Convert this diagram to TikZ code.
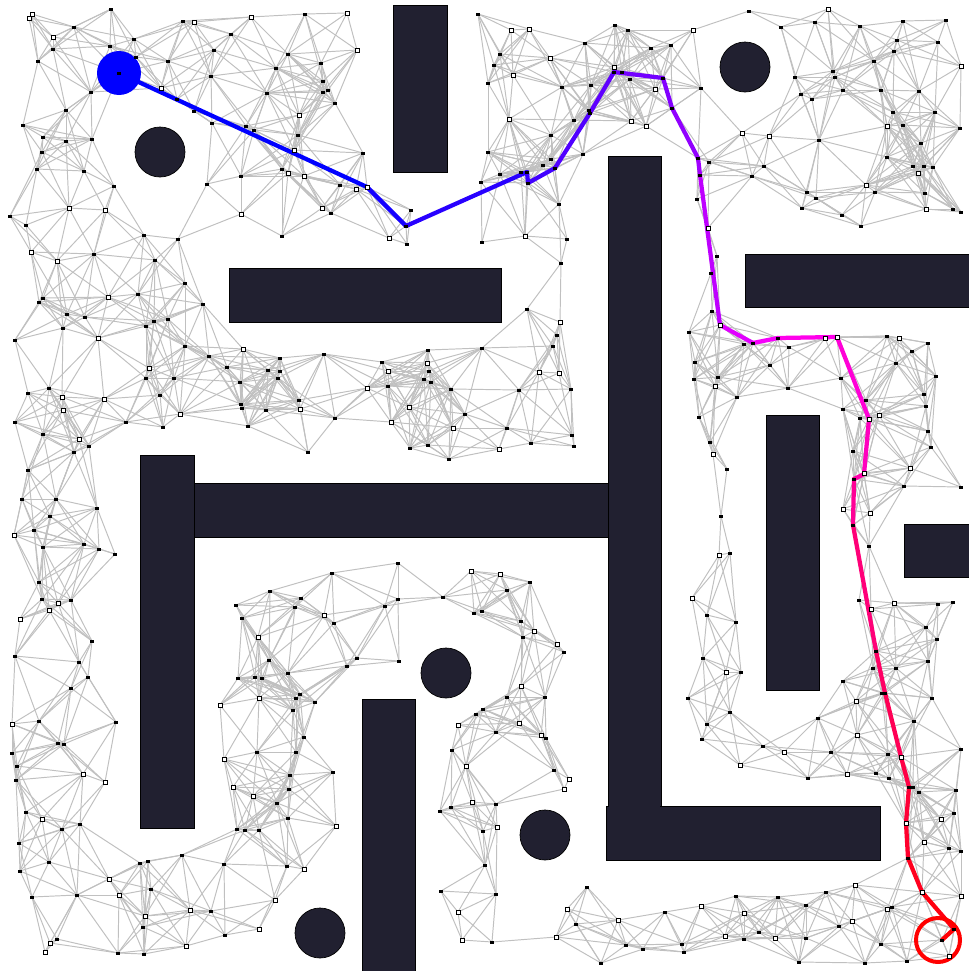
\documentclass[tikz,border=0pt]{standalone}
\usepackage{tikz}
\definecolor{obst}{RGB}{33,32,48}
\definecolor{edgegray}{RGB}{192,192,192}
\makeatletter
\newcount\npts
\newcount\qX \newcount\qY \newcount\qC
\newcount\eI \newcount\eJ \newcount\eK \newcount\ddx \newcount\ddy
\newcount\Rc \newcount\Rsq \newcount\targetN
\newcount\gx \newcount\gy
\newif\iffreept
\newif\ifsegok
\def\chkrect#1#2#3#4{%
  \ifnum\qX<\numexpr#1-\qC\relax\else
  \ifnum\qX>\numexpr#3+\qC\relax\else
  \ifnum\qY<\numexpr#2-\qC\relax\else
  \ifnum\qY>\numexpr#4+\qC\relax\else
    \freeptfalse
  \fi\fi\fi\fi}
\def\chkcirc#1#2{%
  \ifnum\numexpr(\qX-#1)*(\qX-#1)+(\qY-#2)*(\qY-#2)\relax<\numexpr(25+\qC)*(25+\qC)\relax
    \freeptfalse
  \fi}
\def\chkall{\freepttrue
  \chkrect{393}{5}{447}{172}%
  \chkrect{229}{268}{501}{322}%
  \chkrect{608}{156}{661}{812}%
  \chkrect{745}{254}{969}{307}%
  \chkrect{766}{415}{819}{690}%
  \chkrect{904}{524}{969}{577}%
  \chkrect{140}{455}{194}{828}%
  \chkrect{194}{483}{608}{537}%
  \chkrect{362}{699}{415}{971}%
  \chkrect{606}{806}{880}{860}%
  \chkcirc{160}{152}\chkcirc{745}{67}\chkcirc{446}{673}\chkcirc{545}{835}\chkcirc{320}{933}}
\def\addpt#1#2#3{%
  \global\advance\npts\@ne
  \expandafter\xdef\csname px\the\npts\endcsname{#1}%
  \expandafter\xdef\csname py\the\npts\endcsname{#2}%
  \expandafter\xdef\csname ps\the\npts\endcsname{#3}%
  \edef\tmpcmd{\noexpand\coordinate (n\the\npts) at (#1,#2);}\tmpcmd}
\def\gridloop{%
  \ifnum\gy<24
    \pgfmathrandominteger{\rx}{0}{39}%
    \pgfmathrandominteger{\ry}{0}{39}%
    \pgfmathrandominteger{\rs}{0}{3}%
    \qX=\numexpr 8+\gx*40+\rx\relax \qY=\numexpr 6+\gy*40+\ry\relax
    \ifnum\qX>961 \qX=961 \fi
    \ifnum\qY>965 \qY=965 \fi
    \qC=23\relax
    \chkall
    \iffreept \addpt{\the\qX}{\the\qY}{\rs}\fi
    \advance\gx\@ne
    \ifnum\gx>23 \gx=0 \advance\gy\@ne \fi
    \expandafter\gridloop
  \fi}
\def\genloop{%
  \ifnum\npts<\targetN
    \pgfmathrandominteger{\rx}{8}{961}%
    \pgfmathrandominteger{\ry}{6}{965}%
    \pgfmathrandominteger{\rs}{0}{3}%
    \qX=\rx\relax \qY=\ry\relax \qC=23\relax
    \chkall
    \iffreept \addpt{\the\qX}{\the\qY}{\rs}\fi
    \expandafter\genloop
  \fi}
\def\segcheck{%
  \segoktrue
  \qC=3\relax
  \edef\pAx{\csname px\the\eI\endcsname}\edef\pAy{\csname py\the\eI\endcsname}%
  \edef\pBx{\csname px\the\eJ\endcsname}\edef\pBy{\csname py\the\eJ\endcsname}%
  \qX=\numexpr(3*\pAx+\pBx)/4\relax \qY=\numexpr(3*\pAy+\pBy)/4\relax
  \chkall \iffreept\else\segokfalse\fi
  \qX=\numexpr(\pAx+\pBx)/2\relax \qY=\numexpr(\pAy+\pBy)/2\relax
  \chkall \iffreept\else\segokfalse\fi
  \qX=\numexpr(\pAx+3*\pBx)/4\relax \qY=\numexpr(\pAy+3*\pBy)/4\relax
  \chkall \iffreept\else\segokfalse\fi}
\def\edgeinner{%
  \ifnum\eJ>\npts\else
    \ddx=\numexpr\csname px\the\eI\endcsname-\csname px\the\eJ\endcsname\relax
    \ifnum\ddx<\z@ \ddx=-\ddx\fi
    \ifnum\ddx<\Rc
      \ddy=\numexpr\csname py\the\eI\endcsname-\csname py\the\eJ\endcsname\relax
      \ifnum\ddy<\z@ \ddy=-\ddy\fi
      \ifnum\ddy<\Rc
        \ifnum\numexpr\ddx*\ddx+\ddy*\ddy\relax<\Rsq
          \segcheck
          \ifsegok
            \edef\tmpcmd{\noexpand\draw[edgeline] (n\the\eI) -- (n\the\eJ);}\tmpcmd
          \fi
        \fi
      \fi
    \fi
    \advance\eJ\@ne
    \expandafter\edgeinner
  \fi}
\def\edgeouter{%
  \ifnum\eI<\npts
    \eJ=\eI \advance\eJ\@ne
    \edgeinner
    \advance\eI\@ne
    \expandafter\edgeouter
  \fi}
\def\nodeloop{%
  \ifnum\eK>\npts\else
    \ifnum\csname ps\the\eK\endcsname=0
      \edef\tmpcmd{\noexpand\node[hollowsq] (m\the\eK) at (n\the\eK) {};}%
    \else
      \edef\tmpcmd{\noexpand\node[fillsq] (m\the\eK) at (n\the\eK) {};}%
    \fi
    \tmpcmd
    \advance\eK\@ne
    \expandafter\nodeloop
  \fi}
\makeatother
\tikzset{
  obstacle/.style={fill=obst, draw=black, line width=0.4pt},
  edgeline/.style={draw=edgegray, line width=0.55pt},
  pathline/.style={line width=0.085cm, line cap=round, line join=round},
  fillsq/.style={fill=black, draw=none, inner sep=0pt, minimum width=0.08cm, minimum height=0.06cm},
  hollowsq/.style={fill=white, draw=black, line width=0.4pt, inner sep=0pt, minimum size=0.075cm}
}
\begin{document}
\begin{tikzpicture}[x=0.02cm, y=-0.02cm]
\fill[white] (0,0) rectangle (969,971);
\useasboundingbox (0,0) rectangle (969,971);
% obstacles
\draw[obstacle] (393,5) rectangle (447,172);
\draw[obstacle] (229,268) rectangle (501,322);
\draw[obstacle] (608,156) rectangle (661,812);
\draw[obstacle] (745,254) rectangle (975,307);
\draw[obstacle] (766,415) rectangle (819,690);
\draw[obstacle] (904,524) rectangle (975,577);
\draw[obstacle] (140,455) rectangle (194,828);
\draw[obstacle] (194,483) rectangle (608,537);
\draw[obstacle] (362,699) rectangle (415,975);
\draw[obstacle] (606,806) rectangle (880,860);
\fill[obst] (609,800) rectangle (660,812);
\draw[obstacle] (160,152) circle[radius=0.5cm];
\draw[obstacle] (745,67) circle[radius=0.5cm];
\draw[obstacle] (446,673) circle[radius=0.5cm];
\draw[obstacle] (545,835) circle[radius=0.5cm];
\draw[obstacle] (320,933) circle[radius=0.5cm];
% path vertices as roadmap nodes
\foreach \x/\y/\s in {119/73/1,367/187/0,406/226/1,527/172/1,528/183/1,555/168/1,590/113/1,614/72/1,663/78/1,672/108/1,698/158/1,700/175/1,720/325/0,753/343/1,778/338/1,837/337/0,869/419/0,864/474/1,854/479/1,853/525/1,876/651/1,885/693/1,901/757/0,909/787/1,906/823/0,908/858/1,922/892/0,954/929/1,942/940/1}
  {\addpt{\x}{\y}{\s}}
% jittered-grid and random roadmap samples
\pgfmathsetseed{2024}
\gx=0 \gy=0
\gridloop
\targetN=\npts \advance\targetN by 150
\genloop
% roadmap edges
\Rc=72 \Rsq=5184
\eI=1
\edgeouter
% solution path
\foreach \a/\b/\r/\bb in {1/2/0/255,2/3/20/255,3/4/40/255,4/5/55/255,5/6/65/255,6/7/80/255,7/8/95/255,8/9/115/255,9/10/130/255,10/11/145/255,11/12/160/255,12/13/190/255,13/14/225/255,14/15/245/250,15/16/255/235,16/17/255/215,17/18/255/190,18/19/255/170,19/20/255/150,20/21/255/120,21/22/255/100,22/23/255/85,23/24/255/70,24/25/255/55,25/26/255/45,26/27/255/30,27/28/255/15,28/29/255/5}
  {\definecolor{pc}{RGB}{\r,0,\bb}\draw[pathline, draw=pc] (n\a) -- (n\b);}
\fill[fill={rgb,255:red,0;green,0;blue,255}] (119,73) circle[radius=0.44cm];
\draw[draw={rgb,255:red,255;green,0;blue,0}, line width=0.08cm] (938,940) circle[radius=0.44cm];
% nodes
\eK=1
\nodeloop
\end{tikzpicture}
\end{document}
